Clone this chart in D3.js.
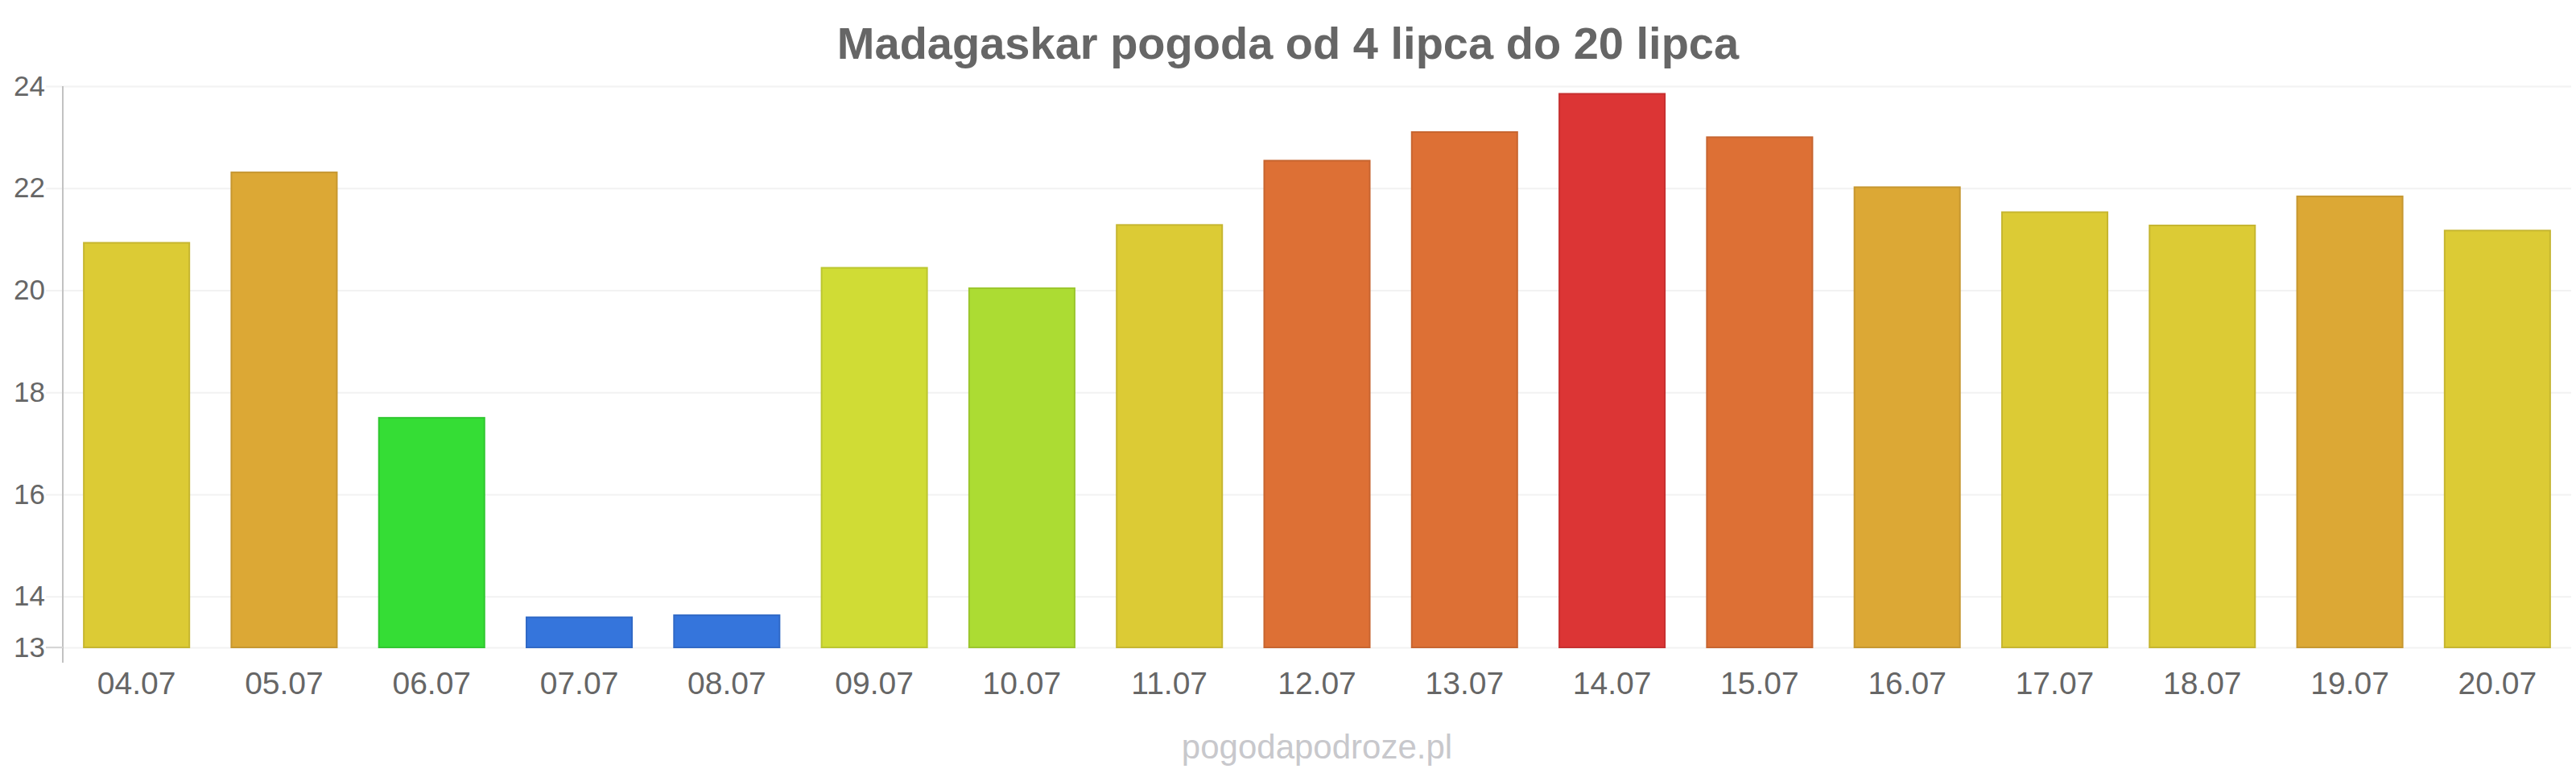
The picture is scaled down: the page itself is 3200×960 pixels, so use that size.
<!DOCTYPE html>
<html lang="pl">
  <head>
    <meta charset="UTF-8" />
    <title>Madagaskar pogoda</title>
    <style>
      body { margin: 0; background: #fff; }
      text { font-family: "Liberation Sans", Arial, sans-serif; fill: #666; }
      .grid line { stroke: #f2f2f2; stroke-width: 2; }
      .grid path, .xaxis path { display: none; }
    </style>
  </head>
  <body>
    <svg id="chart" width="3200" height="960"></svg>
    <script src="https://cdn.jsdelivr.net/npm/d3@7"></script>
    <script>
      // data
      const days = ["04.07", "05.07", "06.07", "07.07", "08.07", "09.07", "10.07", "11.07", "12.07",
                    "13.07", "14.07", "15.07", "16.07", "17.07", "18.07", "19.07", "20.07"];
      const temps = [20.93, 22.31, 17.5, 13.59, 13.63, 20.44, 20.04, 21.28, 22.54,
                     23.1, 23.85, 23.0, 22.02, 21.53, 21.27, 21.84, 21.17];
      const yTicks = [13, 14, 16, 18, 20, 22, 24];
      const title = "Madagaskar pogoda od 4 lipca do 20 lipca";
      const source = "pogodapodroze.pl";

      const svg = d3.select("#chart");
      const plotLeft = 78, plotRight = 3194, plotTop = 107, plotBottom = 804, gridStart = 57;

      const x = d3.scaleBand()
        .domain(days)
        .range([plotLeft, plotRight])
        .paddingInner(0.285)
        .paddingOuter(0.1425);

      const y = d3.scaleLinear().domain([13, 24]).range([plotBottom, plotTop]);

      // temperature -> bar colour
      const color = d3.scaleThreshold()
        .domain([15, 19, 20.2, 20.7, 21.7, 22.4, 23.5])
        .range(["#3575dc", "#35dd35", "#acdc33", "#d0dc35", "#dccb35", "#dca835", "#dd7035", "#dc3535"]);

      // gridlines + y labels
      const grid = svg.append("g")
        .attr("class", "grid")
        .attr("transform", `translate(${gridStart},0)`)
        .call(d3.axisLeft(y).tickValues(yTicks).tickSize(-(plotRight - gridStart)).tickPadding(1));
      grid.selectAll("text").style("font-size", "35px");

      // bars
      svg.append("g")
        .selectAll("rect")
        .data(temps)
        .enter()
        .append("rect")
        .attr("x", (d, i) => x(days[i]))
        .attr("y", (d) => y(d))
        .attr("width", x.bandwidth())
        .attr("height", (d) => y(13) - y(d))
        .attr("fill", (d) => color(d))
        .attr("stroke", (d) => d3.color(color(d)).darker(0.3))
        .attr("stroke-width", 2);

      // axis line and the small tick at 13
      svg.append("line")
        .attr("x1", plotLeft).attr("x2", plotLeft)
        .attr("y1", plotTop).attr("y2", plotBottom + 19)
        .attr("stroke", "#c2c2c2").attr("stroke-width", 2);
      svg.append("line")
        .attr("x1", gridStart).attr("x2", plotLeft)
        .attr("y1", y(13)).attr("y2", y(13))
        .attr("stroke", "#d6d6d6").attr("stroke-width", 2);

      // x labels
      const xa = svg.append("g")
        .attr("class", "xaxis")
        .attr("transform", `translate(0,${plotBottom})`)
        .call(d3.axisBottom(x).tickSize(0).tickPadding(30));
      xa.selectAll("text").style("font-size", "39px");

      svg.append("text")
        .attr("x", 1600).attr("y", 73)
        .attr("text-anchor", "middle")
        .style("font-size", "56px").style("font-weight", "bold")
        .text(title);

      svg.append("text")
        .attr("x", (plotLeft + plotRight) / 2).attr("y", 942)
        .attr("text-anchor", "middle")
        .style("font-size", "42px").style("fill", "#c8c8cc")
        .text(source);
    </script>
  </body>
</html>
